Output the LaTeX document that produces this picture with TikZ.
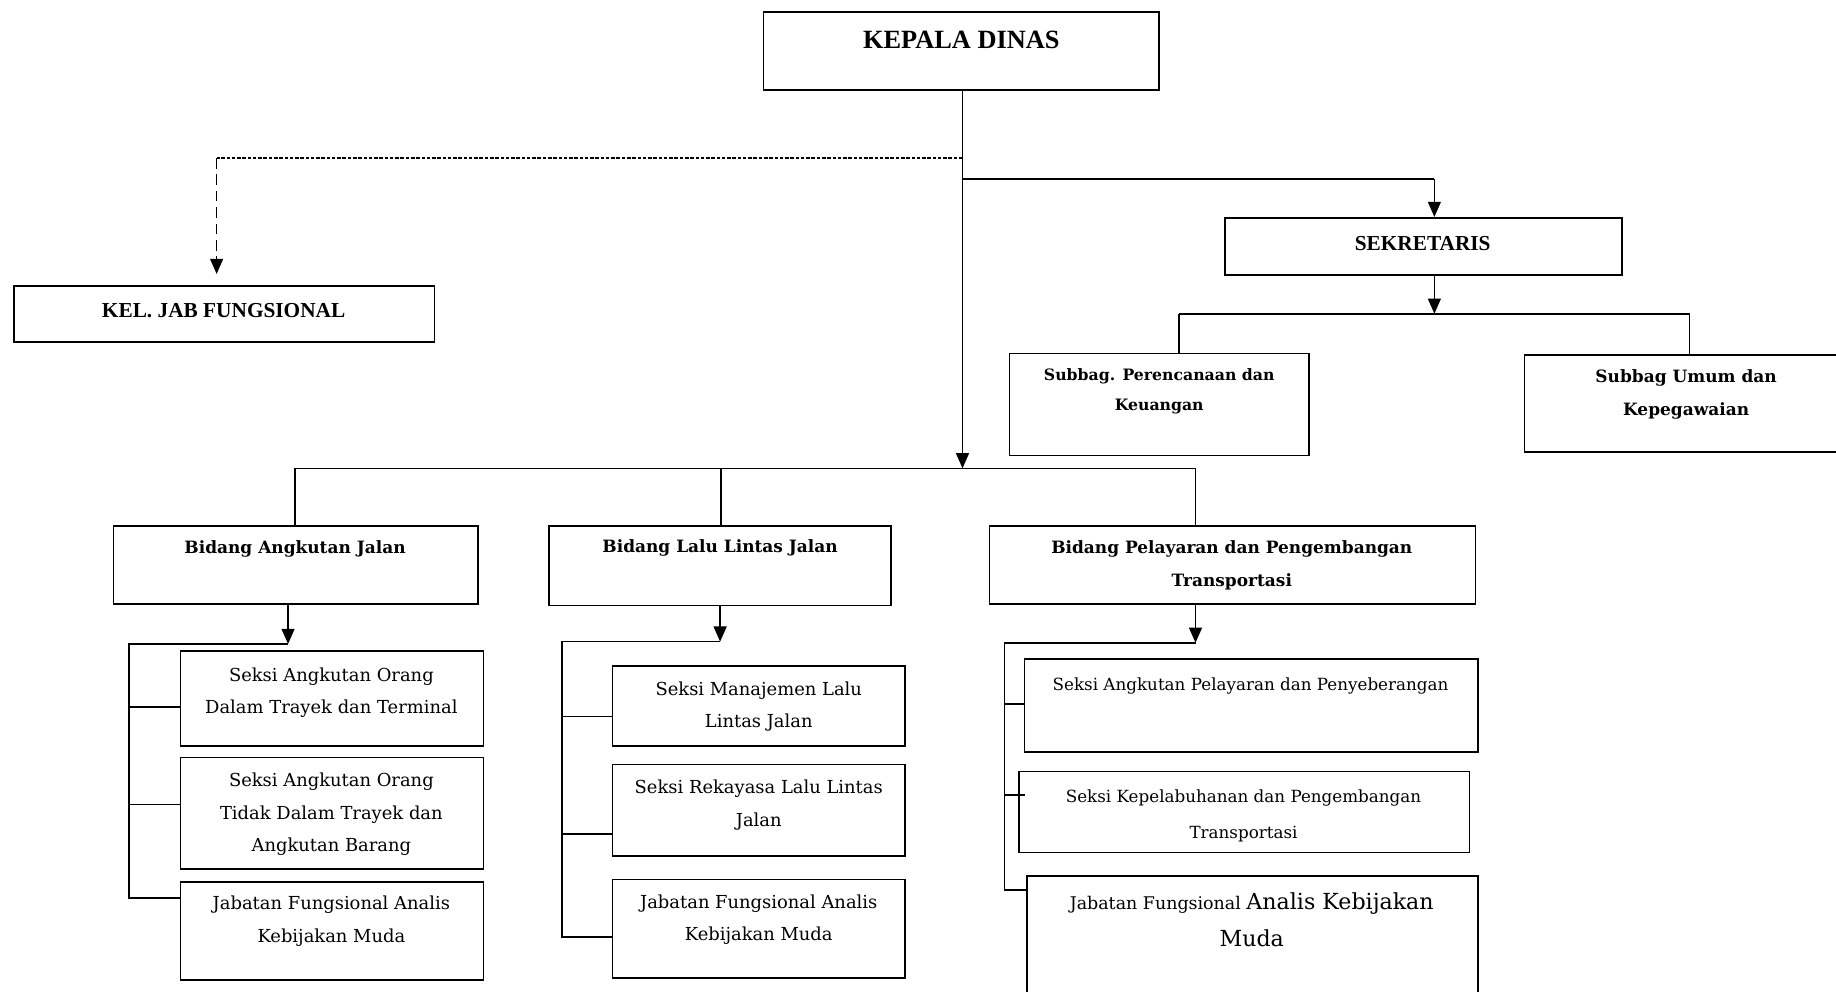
\documentclass[tikz,border=0pt]{standalone}
\usepackage{fontspec}
\setmainfont{DejaVu Serif}
\newfontfamily\tnr{Liberation Serif}
\usetikzlibrary{arrows.meta,fit}
\begin{document}
\begin{tikzpicture}[x=1pt,y=-1pt,
  box/.style={draw, line width=1.4pt, inner sep=0pt},
  ln/.style={line width=1.4pt},
  arr/.style={line width=1.4pt, -{Triangle[length=13pt,width=11pt]}},
  tbig/.style={font=\tnr\bfseries\fontsize{22.5}{24}\selectfont, inner sep=0pt},
  tmid/.style={font=\tnr\bfseries\fontsize{18.2}{20}\selectfont, inner sep=0pt},
  hb/.style={font=\bfseries\fontsize{14.5}{28}\selectfont, align=center, inner sep=0pt},
  body/.style={font=\fontsize{15.3}{28}\selectfont, align=center, inner sep=0pt}]
\useasboundingbox (0,0) rectangle (1568,847);
% boxes
\node[box, fit={(652,10) (990,77)}] (kd) {};
\node[box, fit={(12,244) (371,292)}] (kjf) {};
\node[box, fit={(1046,186) (1385,235)}] (sek) {};
\node[box, fit={(862,302) (1118,389)}] (sp) {};
\node[box, fit={(1302,303) (1580,386)}] (su) {};
\node[box, fit={(97,449) (408,516)}] (ba) {};
\node[box, fit={(469,449) (761,517)}] (bl) {};
\node[box, fit={(845,449) (1260,516)}] (bp) {};
\node[box, fit={(154,556) (413,637)}] (a1) {};
\node[box, fit={(154,647) (413,742)}] (a2) {};
\node[box, fit={(154,753) (413,837)}] (a3) {};
\node[box, fit={(523,569) (773,637)}] (l1) {};
\node[box, fit={(523,653) (773,731)}] (l2) {};
\node[box, fit={(523,751) (773,835)}] (l3) {};
\node[box, fit={(875,563) (1262,642)}] (p1) {};
\node[box, fit={(870,659) (1255,728)}] (p2) {};
\node[box, fit={(877,748) (1262,870)}] (p3) {};
% texts
\node[tbig] (tkd) at (821,34) {KEPALA DINAS};
\node[tmid] (tkjf) at (191,265) {KEL. JAB FUNGSIONAL};
\node[tmid] (tsek) at (1215,208) {SEKRETARIS};
\node[hb, font=\bfseries\fontsize{13.4}{26}\selectfont] (tsp) at (990,334) {Subbag. Perencanaan dan\\Keuangan};
\node[hb] (tsu) at (1440,337) {Subbag Umum dan\\Kepegawaian};
\node[hb] (tba) at (252,469) {Bidang Angkutan Jalan};
\node[hb] (tbl) at (615,468) {Bidang Lalu Lintas Jalan};
\node[hb] (tbp) at (1052,483) {Bidang Pelayaran dan Pengembangan\\Transportasi};
\node[body] (ta1) at (283,591.5) {Seksi Angkutan Orang\\Dalam Trayek dan Terminal};
\node[body] (ta2) at (283,695.5) {Seksi Angkutan Orang\\Tidak Dalam Trayek dan\\Angkutan Barang};
\node[body] (ta3) at (283,787) {Jabatan Fungsional Analis\\Kebijakan Muda};
\node[body] (tl1) at (648,603.5) {Seksi Manajemen Lalu\\Lintas Jalan};
\node[body] (tl2) at (648,687.5) {Seksi Rekayasa Lalu Lintas\\Jalan};
\node[body] (tl3) at (648,785.5) {Jabatan Fungsional Analis\\Kebijakan Muda};
\node[body, font=\fontsize{14.3}{28}\selectfont] (tp1) at (1068,585.5) {Seksi Angkutan Pelayaran dan Penyeberangan};
\node[body, font=\fontsize{14.3}{31}\selectfont] (tp2) at (1062,697) {Seksi Kepelabuhanan dan Pengembangan\\Transportasi};
\node[body, font=\fontsize{14.9}{31}\selectfont] (tp3) at (1069,785.5) {Jabatan Fungsional {\fontsize{18.9}{31}\selectfont Analis Kebijakan}\\{\fontsize{18.9}{31}\selectfont Muda}};
% coordinates
\coordinate (c0) at (822,400);
\coordinate (cd) at (822,135);
\coordinate (cdl) at (185,135);
\coordinate (cdt) at (185,234);
\coordinate (cs) at (822,153);
\coordinate (csr) at (1225,153);
\coordinate (cs2) at (1225,268);
\coordinate (csl) at (1007,268);
\coordinate (csrr) at (1443,268);
\coordinate (cbl) at (252,400);
\coordinate (cbm) at (616,400);
\coordinate (cbr) at (1021,400);
\coordinate (ca) at (246,550);
\coordinate (cl) at (615,548);
\coordinate (cp) at (1021,549);
% main spine
\draw[arr] (kd.south -| cd) -- (c0);
\draw[line width=1.6pt, dash pattern=on 3pt off 1.5pt] (cd) -- (cdl);
\draw[arr, dash pattern=on 9pt off 5pt] (cdl) -- (cdt);
\draw[ln] (cs) -- (csr);
\draw[arr] (csr) -- (sek.north -| csr);
\draw[arr] (sek.south -| cs2) -- (cs2);
\draw[ln] (csl) -- (csrr);
\draw[ln] (csl) -- (sp.north -| csl);
\draw[ln] (csrr) -- (su.north -| csrr);
\draw[ln] (cbl) -- (cbr);
\draw[ln] (cbl) -- (ba.north -| cbl);
\draw[ln] (cbm) -- (bl.north -| cbm);
\draw[ln] (cbr) -- (bp.north -| cbr);
% column 1
\draw[arr] (ba.south -| ca) -- (ca);
\draw[ln] (ca) -- (110,550) |- (a3.west |- 0,767);
\draw[ln] (110,604) -- (a1.west |- 0,604);
\draw[ln] (110,687) -- (a2.west |- 0,687);
% column 2
\draw[arr] (bl.south -| cl) -- (cl);
\draw[ln] (cl) -- (480,548) |- (l3.west |- 0,800);
\draw[ln] (480,612) -- (l1.west |- 0,612);
\draw[ln] (480,712) -- (l2.west |- 0,712);
% column 3
\draw[arr] (bp.south -| cp) -- (cp);
\draw[ln] (cp) -- (858,549) |- (p3.west |- 0,760);
\draw[ln] (858,601) -- (p1.west |- 0,601);
\draw[ln] (858,679) -- (875,679);
\end{tikzpicture}
\end{document}
